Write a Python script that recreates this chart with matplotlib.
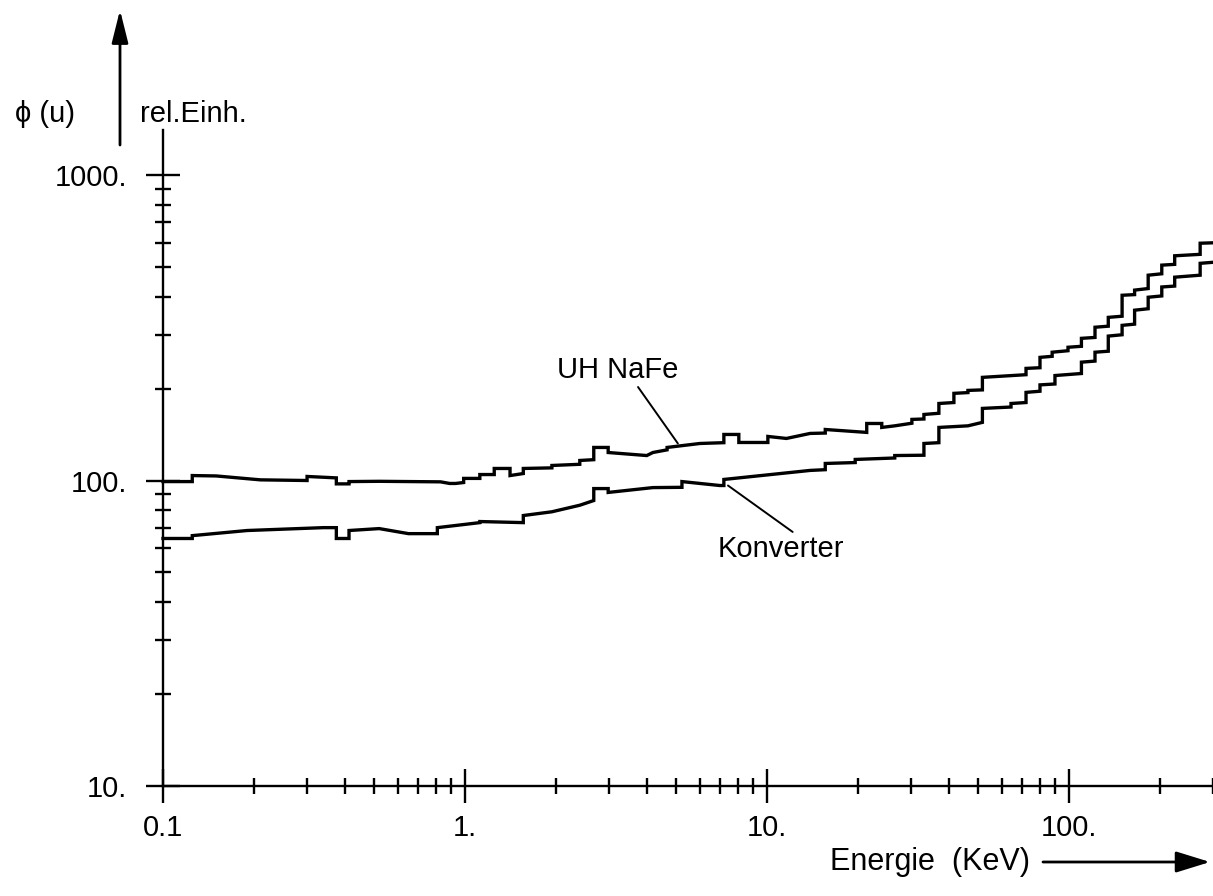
import matplotlib
matplotlib.use("Agg")
import matplotlib.pyplot as plt
from matplotlib.patches import FancyArrowPatch
from matplotlib.ticker import FixedLocator, NullFormatter

# ---- data ----
e_uh = [0.1, 0.125, 0.125, 0.15, 0.21, 0.30, 0.30, 0.375, 0.375, 0.413, 0.413, 0.52, 0.83, 0.89, 0.93,
        0.99, 0.99, 1.12, 1.12, 1.25, 1.25, 1.41, 1.41, 1.56, 1.56, 1.94, 1.94, 2.40, 2.40, 2.67, 2.67,
        2.98, 2.98, 4.0, 4.19, 4.67, 4.67, 6.0, 7.2, 7.2, 8.07, 8.07, 10.07, 10.07, 11.6, 13.9, 15.6,
        15.6, 21.4, 21.4, 24.0, 24.0, 26.5, 30.2, 30.2, 33.1, 33.1, 37.1, 37.1, 41.6, 41.6, 46.3, 46.3,
        51.7, 51.7, 72.1, 72.1, 80.2, 80.2, 88.0, 88.0, 99.3, 99.3, 110, 110, 122, 122, 135, 135, 150,
        150, 165, 165, 183, 183, 203, 203, 224, 224, 272, 272, 300]
phi_uh = [99.2, 99.2, 103.8, 103.5, 100.5, 100.0, 103.1, 102.0, 97.5, 97.5, 99.2, 99.4, 99.0, 97.8, 97.8,
          98.5, 101.6, 101.6, 104.6, 104.6, 109.5, 109.5, 103.8, 105.4, 109.5, 110.0, 112.0, 113.0, 116.3,
          117.0, 128.3, 128.3, 123.5, 120.7, 123.5, 126.0, 128.3, 132.2, 133.0, 141.5, 141.5, 133.2, 133.2,
          139.4, 137.3, 142.6, 143.0, 146.9, 143.7, 153.7, 153.7, 149.2, 151.0, 154.0, 158.5, 159.0, 164.5,
          166.0, 178.7, 180.0, 192.9, 194.0, 197.2, 198.0, 217.6, 222.0, 232.8, 234.0, 253.0, 255.0, 263.0,
          266.0, 273.0, 275.0, 292.0, 294.0, 317.5, 320.0, 342.0, 345.0, 404.0, 406.0, 420.0, 425.0, 470.0,
          475.0, 507.0, 510.0, 544.0, 550.0, 598.0, 600.0]

e_kv = [0.1, 0.125, 0.125, 0.19, 0.34, 0.375, 0.375, 0.413, 0.413, 0.52, 0.65, 0.81, 0.81, 1.12, 1.12,
        1.56, 1.56, 1.94, 2.4, 2.67, 2.67, 2.98, 2.98, 4.19, 5.23, 5.23, 6.98, 7.2, 7.2, 13.9, 15.6, 15.6,
        19.6, 19.6, 26.5, 26.5, 33.1, 33.1, 37.1, 37.1, 46.3, 51.7, 51.7, 64.3, 64.3, 72.1, 72.1, 80.2,
        80.2, 89.9, 89.9, 110, 110, 122, 122, 135, 135, 150, 150, 165, 165, 183, 183, 203, 203, 224, 224,
        272, 272, 300]
phi_kv = [64.6, 64.6, 66.0, 68.6, 70.1, 70.1, 64.6, 64.6, 68.6, 69.6, 67.0, 67.0, 70.1, 72.8, 73.4,
          72.8, 76.8, 79.0, 83.0, 86.0, 94.1, 94.1, 91.4, 94.8, 95.0, 99.2, 96.3, 96.3, 100.8, 107.9, 108.5,
          113.7, 114.5, 117.2, 118.5, 120.7, 121.0, 132.2, 133.0, 149.2, 151.0, 155.0, 172.2, 174.0, 178.7,
          180.0, 194.3, 196.0, 205.6, 207.0, 220.6, 224.0, 244.0, 246.0, 263.0, 265.0, 297.0, 300.0, 322.0,
          325.0, 361.0, 365.0, 398.0, 402.0, 430.0, 433.0, 463.0, 470.0, 514.0, 518.0]

x_major = [0.1, 1, 10, 100]
x_major_labels = ["0.1", "1.", "10.", "100."]
y_major = [10, 100, 1000]
y_major_labels = ["10.", "100.", "1000."]
x_minor = [m * 10.0 ** d for d in (-1, 0, 1) for m in range(2, 10)] + [200, 300]
y_minor = [m * 10.0 ** d for d in (1, 2) for m in range(2, 10)]

label_uh = "UH NaFe"
label_kv = "Konverter"

plt.rcParams["font.family"] = ["Liberation Sans", "DejaVu Sans"]

W, H = 1213, 896
fig = plt.figure(figsize=(W / 100, H / 100), dpi=100)
ax = fig.add_axes([163 / W, (H - 786) / H, 1 - 163 / W, (786 - 130) / H])
ax.set_xscale("log")
ax.set_yscale("log")
ax.set_xlim(0.1, 300)
ax.set_ylim(10, 1404)

lw = 2.4
ax.plot(e_uh, phi_uh, color="black", lw=lw, solid_joinstyle="miter", clip_on=False)
ax.plot(e_kv, phi_kv, color="black", lw=lw, solid_joinstyle="miter", clip_on=False)

for s in ("top", "right"):
    ax.spines[s].set_visible(False)
for s in ("left", "bottom"):
    ax.spines[s].set_linewidth(1.7)

ax.xaxis.set_major_locator(FixedLocator(x_major))
ax.xaxis.set_minor_locator(FixedLocator(x_minor))
ax.yaxis.set_major_locator(FixedLocator(y_major))
ax.yaxis.set_minor_locator(FixedLocator(y_minor))
ax.set_xticklabels(x_major_labels)
ax.set_yticklabels(y_major_labels)
ax.xaxis.set_minor_formatter(NullFormatter())
ax.yaxis.set_minor_formatter(NullFormatter())
ax.tick_params(axis="both", which="major", direction="inout", length=24, width=1.7, labelsize=21)
ax.tick_params(axis="both", which="minor", direction="inout", length=12, width=1.7)
ax.tick_params(axis="x", which="major", pad=8)
ax.tick_params(axis="y", which="major", pad=14)

# annotations with leader lines
ax.annotate(label_uh, xy=(5.07, 132.2), xytext=(2.02, 229.6), fontsize=21,
            va="center", ha="left",
            arrowprops=dict(arrowstyle="-", lw=1.4, color="black", shrinkA=0, shrinkB=0,
                            relpos=(0.65, 0.0)))
ax.annotate(label_kv, xy=(7.43, 96.3), xytext=(6.89, 59.8), fontsize=21,
            va="center", ha="left",
            arrowprops=dict(arrowstyle="-", lw=1.4, color="black", shrinkA=0, shrinkB=0,
                            relpos=(0.62, 1.0)))

# y-axis title with arrow
fig.text(15 / W, 1 - 114 / H, "ϕ (u)", fontsize=21, ha="left", va="center")
fig.text(140 / W, 1 - 114 / H, "rel.Einh.", fontsize=21, ha="left", va="center")
fig.add_artist(FancyArrowPatch(
    (120 / W, 1 - 145 / H), (120 / W, 1 - 10 / H), transform=fig.transFigure,
    arrowstyle="-|>,head_length=20,head_width=5", lw=2.0, color="black",
    shrinkA=0, shrinkB=0))

# x-axis title with arrow
fig.text(830 / W, 1 - 862 / H, "Energie  (KeV)", fontsize=22, ha="left", va="center")
fig.add_artist(FancyArrowPatch(
    (1043 / W, 1 - 862 / H), (1210 / W, 1 - 862 / H), transform=fig.transFigure,
    arrowstyle="-|>,head_length=21,head_width=6.5", lw=2.0, color="black",
    shrinkA=0, shrinkB=0))

fig.savefig("out.png", dpi=100, facecolor="white")
